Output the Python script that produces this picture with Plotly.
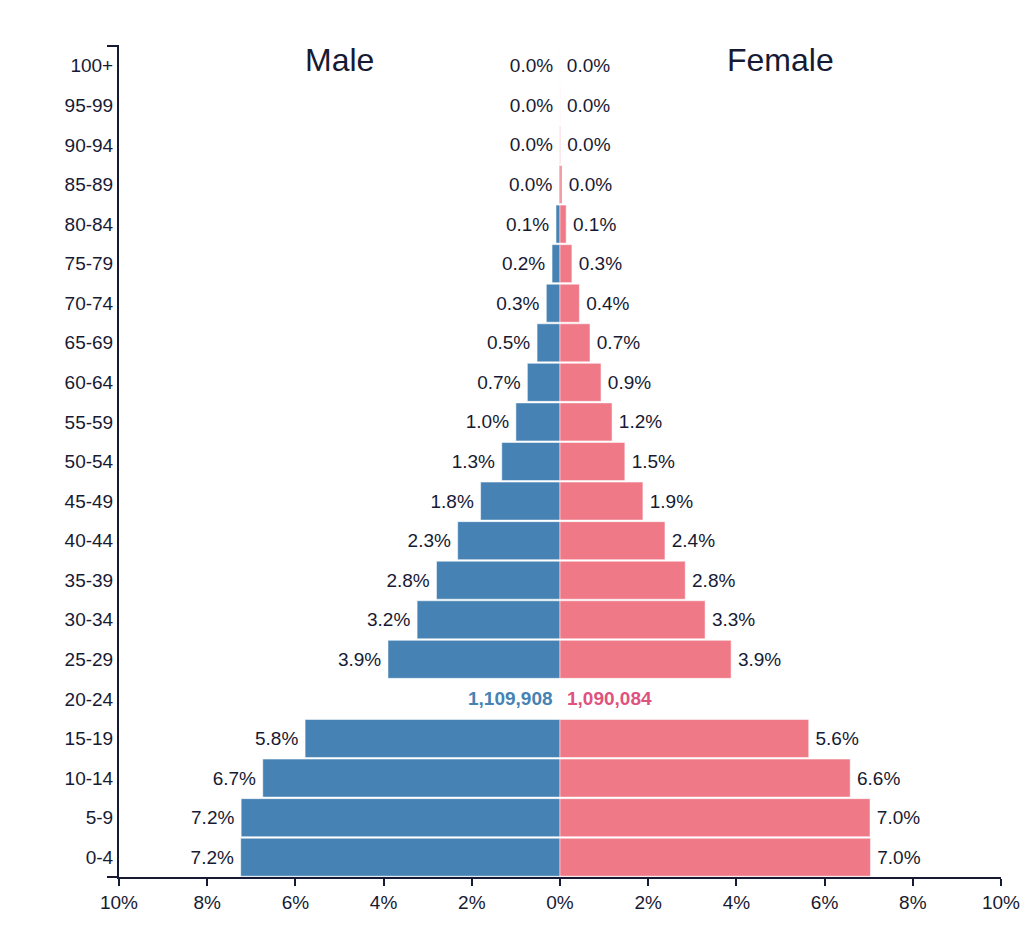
import plotly.graph_objects as go

# age groups, bottom to top
age_groups = ["0-4", "5-9", "10-14", "15-19", "20-24", "25-29", "30-34", "35-39",
              "40-44", "45-49", "50-54", "55-59", "60-64", "65-69", "70-74",
              "75-79", "80-84", "85-89", "90-94", "95-99", "100+"]

# share of total population (%), 20-24 is the highlighted row (shown as counts)
male_pct = [7.24, 7.23, 6.74, 5.78, None, 3.90, 3.24, 2.80, 2.32, 1.80, 1.32,
            1.00, 0.74, 0.52, 0.31, 0.18, 0.09, 0.02, 0.005, 0.001, 0.0004]
female_pct = [7.04, 7.03, 6.58, 5.64, None, 3.88, 3.29, 2.84, 2.38, 1.88, 1.47,
              1.18, 0.93, 0.68, 0.44, 0.27, 0.14, 0.045, 0.01, 0.002, 0.0004]

highlight_group = "20-24"
male_count = 1109908
female_count = 1090084

x_ticks = [-10, -8, -6, -4, -2, 0, 2, 4, 6, 8, 10]

MALE_COLOR = "#4682B4"
FEMALE_COLOR = "#F07987"
MALE_TEXT = "#4682B4"
FEMALE_TEXT = "#E0527E"
INK = "#171a33"
FONT = "Liberation Sans, Arial, sans-serif"
FS = 19


def fmt(v, side):
    if v is None:
        return ""
    # thin space keeps the label a bit off the bar end
    return f"{v:.1f}%\u2009" if side == "m" else f"\u2009{v:.1f}%"


fig = go.Figure()

fig.add_trace(go.Bar(
    y=age_groups,
    x=[None if v is None else -v for v in male_pct],
    orientation="h",
    name="Male",
    marker=dict(color=MALE_COLOR, line=dict(color="rgba(255,255,255,0.5)", width=1)),
    text=[fmt(v, "m") for v in male_pct],
    textposition="outside",
    constraintext="none",
    textfont=dict(size=FS, color=INK, family=FONT),
    cliponaxis=False,
))

fig.add_trace(go.Bar(
    y=age_groups,
    x=female_pct,
    orientation="h",
    name="Female",
    marker=dict(color=FEMALE_COLOR, line=dict(color="rgba(255,255,255,0.5)", width=1)),
    text=[fmt(v, "f") for v in female_pct],
    textposition="outside",
    constraintext="none",
    textfont=dict(size=FS, color=INK, family=FONT),
    cliponaxis=False,
))

# counts for the highlighted row
fig.add_annotation(x=0, y=highlight_group, xref="x", yref="y",
                   text=f"<b>{male_count:,}</b>", showarrow=False,
                   xanchor="right", xshift=-5,
                   font=dict(size=FS, color=MALE_TEXT, family=FONT))
fig.add_annotation(x=0, y=highlight_group, xref="x", yref="y",
                   text=f"<b>{female_count:,}</b>", showarrow=False,
                   xanchor="left", xshift=5,
                   font=dict(size=FS, color=FEMALE_TEXT, family=FONT))

# side titles
fig.add_annotation(x=-5, y=1.0, xref="x", yref="paper", text="Male",
                   showarrow=False, yanchor="top", yshift=6,
                   font=dict(size=32, color=INK, family=FONT))
fig.add_annotation(x=5, y=1.0, xref="x", yref="paper", text="Female",
                   showarrow=False, yanchor="top", yshift=6,
                   font=dict(size=32, color=INK, family=FONT))

# outer ticks of the y axis (top and bottom)
for yp in [0, 1]:
    fig.add_shape(type="line", xref="paper", yref="paper",
                  x0=-0.0136, x1=0, y0=yp, y1=yp,
                  line=dict(color=INK, width=2))

fig.update_layout(
    width=1016, height=918,
    margin=dict(l=111, r=23, t=38, b=49, autoexpand=False),
    barmode="overlay",
    bargap=0.04,
    showlegend=False,
    plot_bgcolor="white",
    paper_bgcolor="white",
    font=dict(family=FONT, size=FS, color=INK),
    xaxis=dict(
        range=[-10, 10],
        tickvals=x_ticks,
        ticktext=[f"{abs(t)}%" for t in x_ticks],
        showgrid=False, zeroline=False, automargin=False,
        showline=True, linecolor=INK, linewidth=2,
        ticks="outside", ticklen=7, tickwidth=1.5, tickcolor=INK,
        tickfont=dict(size=FS, color=INK),
    ),
    yaxis=dict(
        categoryorder="array", categoryarray=age_groups,
        range=[-0.5, len(age_groups) - 0.5],
        showgrid=False, zeroline=False, automargin=False,
        showline=True, linecolor=INK, linewidth=2,
        ticks="", ticklabelstandoff=0,
        tickfont=dict(size=FS, color=INK),
    ),
)

fig.write_html("out.html")
